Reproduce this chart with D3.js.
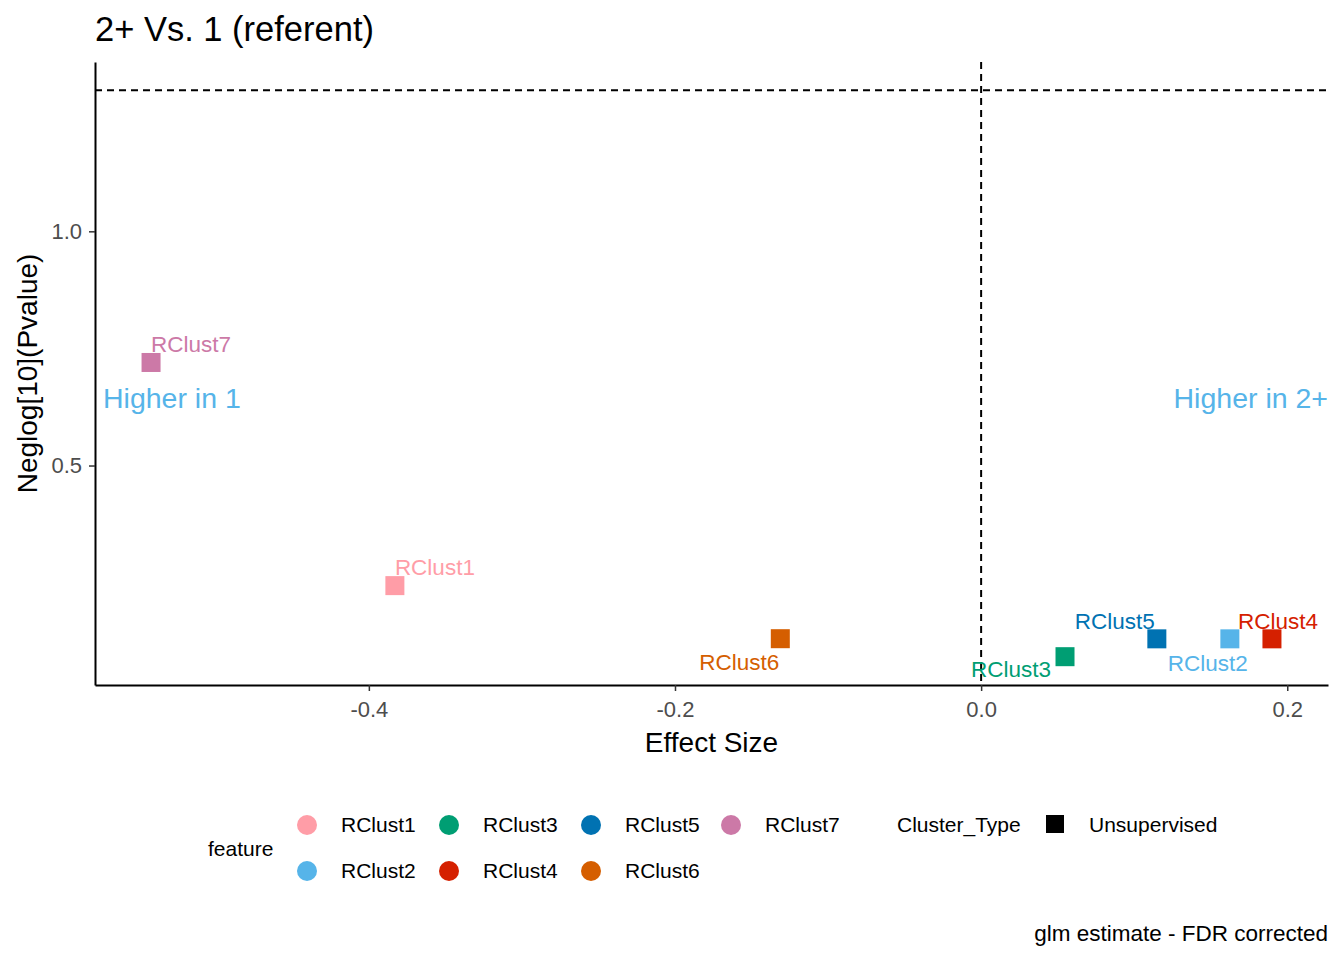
<!DOCTYPE html>
<head>
    <meta charset="utf-8"/>
    <script src="https://d3js.org/d3.v7.min.js"></script>
    <style>
        body {
            margin: 0;
            background: #fff;
        }
        text {
            font-family: Arial, "Liberation Sans", sans-serif;
        }
    </style>
</head>

<body>
<script>
    var width = 1344,
        height = 960;

    // data
    var features = ["RClust1", "RClust2", "RClust3", "RClust4", "RClust5", "RClust6", "RClust7"];
    var effectSize = [-0.383, 0.1625, 0.0548, 0.190, 0.1148, -0.1312, -0.5423];
    var neglogP = [0.2436, 0.130, 0.0919, 0.130, 0.130, 0.1303, 0.720];
    var featureColors = ["#FF9DA7", "#56B4E9", "#009E73", "#D52000", "#0072B2", "#D55E00", "#CC79A7"];
    var xTicks = [-0.4, -0.2, 0.0, 0.2];
    var yTicks = [0.5, 1.0];
    var pThreshold = -Math.log10(0.05);

    // where the repelled labels ended up, relative to the point (px)
    var labelNudge = {
        RClust1: [0, -18], RClust2: [-62, 24], RClust3: [-94, 12], RClust4: [-34, -18],
        RClust5: [-82, -18], RClust6: [-81, 23], RClust7: [0, -18]
    };

    var points = features.map(function (f, i) {
        return {feature: f, x: effectSize[i], y: neglogP[i], color: featureColors[i]};
    });

    var margin = {left: 95, right: 16, top: 62, bottom: 275};
    var pw = width - margin.left - margin.right,
        ph = height - margin.top - margin.bottom;

    var svg = d3.select("body").append("svg")
        .attr("width", width)
        .attr("height", height);

    // ggplot style 5% expansion
    var xr = d3.extent(effectSize), xp = (xr[1] - xr[0]) * 0.05;
    var yr = [d3.min(neglogP), pThreshold], yp = (yr[1] - yr[0]) * 0.05;

    var x = d3.scaleLinear().domain([xr[0] - xp, xr[1] + xp]).range([0, pw]);
    var y = d3.scaleLinear().domain([yr[0] - yp, yr[1] + yp]).range([ph, 0]);

    var g = svg.append("g").attr("transform", "translate(" + margin.left + "," + margin.top + ")");

    // title
    svg.append("text")
        .attr("x", margin.left).attr("y", 41)
        .style("font-size", "34.5px")
        .text("2+ Vs. 1 (referent)");

    // reference lines
    g.append("line")
        .attr("x1", 0).attr("x2", pw)
        .attr("y1", y(pThreshold)).attr("y2", y(pThreshold))
        .attr("stroke", "#000").attr("stroke-width", 2).attr("stroke-dasharray", "7,5");
    g.append("line")
        .attr("x1", x(0)).attr("x2", x(0))
        .attr("y1", 0).attr("y2", ph)
        .attr("stroke", "#000").attr("stroke-width", 2).attr("stroke-dasharray", "7,5");

    // axes
    var xAxis = g.append("g")
        .attr("transform", "translate(0," + ph + ")")
        .call(d3.axisBottom(x).tickValues(xTicks).tickFormat(d3.format(".1f")).tickSize(6).tickSizeOuter(0));
    var yAxis = g.append("g")
        .call(d3.axisLeft(y).tickValues(yTicks).tickFormat(d3.format(".1f")).tickSize(6).tickSizeOuter(0));

    [xAxis, yAxis].forEach(function (a) {
        a.select(".domain").attr("stroke", "#000").attr("stroke-width", 2);
        a.selectAll(".tick line").attr("stroke", "#333").attr("stroke-width", 1.5);
        a.selectAll(".tick text")
            .attr("fill", "#4D4D4D")
            .style("font-size", "22px")
            .style("font-family", "Arial, 'Liberation Sans', sans-serif");
    });
    xAxis.selectAll(".tick text").attr("dy", "1.03em");
    yAxis.selectAll(".tick text").attr("x", -13);
    xAxis.selectAll(".tick text").text(function (d) { return d3.format(".1f")(d).replace("−", "-"); });

    // axis titles
    svg.append("text")
        .attr("x", margin.left + pw / 2).attr("y", 752)
        .attr("text-anchor", "middle")
        .style("font-size", "28px")
        .text("Effect Size");
    svg.append("text")
        .attr("transform", "translate(37," + (margin.top + ph / 2) + ") rotate(-90)")
        .attr("text-anchor", "middle")
        .style("font-size", "28px")
        .text("Neglog[10](Pvalue)");

    // direction annotations
    g.append("text")
        .attr("x", 8).attr("y", 408 - margin.top)
        .attr("fill", "#56B4E9")
        .style("font-size", "28.5px")
        .text("Higher in 1");
    g.append("text")
        .attr("x", pw).attr("y", 408 - margin.top)
        .attr("text-anchor", "end")
        .attr("fill", "#56B4E9")
        .style("font-size", "28.5px")
        .text("Higher in 2+");

    // points
    var sq = 19;
    g.selectAll("rect.pt")
        .data(points)
        .join("rect")
        .attr("class", "pt")
        .attr("x", function (d) { return x(d.x) - sq / 2; })
        .attr("y", function (d) { return y(d.y) - sq / 2; })
        .attr("width", sq).attr("height", sq)
        .attr("fill", function (d) { return d.color; });

    g.selectAll("text.lab")
        .data(points)
        .join("text")
        .attr("class", "lab")
        .attr("x", function (d) { return x(d.x) + labelNudge[d.feature][0]; })
        .attr("y", function (d) { return y(d.y) + labelNudge[d.feature][1]; })
        .attr("dy", "0.35em")
        .attr("fill", function (d) { return d.color; })
        .style("font-size", "22.5px")
        .text(function (d) { return d.feature; });

    // legend: feature
    var leg = svg.append("g");
    leg.append("text")
        .attr("x", 208).attr("y", 849).attr("dy", "0.35em")
        .style("font-size", "21px")
        .text("feature");

    var colX = [307, 449, 591, 731], rowY = [825, 871];
    var legItems = leg.selectAll("g.item")
        .data(points)
        .join("g")
        .attr("class", "item")
        .attr("transform", function (d, i) {
            return "translate(" + colX[Math.floor(i / 2)] + "," + rowY[i % 2] + ")";
        });
    legItems.append("circle")
        .attr("r", 10)
        .attr("fill", function (d) { return d.color; });
    legItems.append("text")
        .attr("x", 34).attr("dy", "0.35em")
        .style("font-size", "21px")
        .text(function (d) { return d.feature; });

    // legend: Cluster_Type
    leg.append("text")
        .attr("x", 897).attr("y", 825).attr("dy", "0.35em")
        .style("font-size", "21px")
        .text("Cluster_Type");
    leg.append("rect")
        .attr("x", 1046).attr("y", 815)
        .attr("width", 18).attr("height", 18)
        .attr("fill", "#000");
    leg.append("text")
        .attr("x", 1089).attr("y", 825).attr("dy", "0.35em")
        .style("font-size", "21px")
        .text("Unsupervised");

    // caption
    svg.append("text")
        .attr("x", width - margin.right).attr("y", 941)
        .attr("text-anchor", "end")
        .style("font-size", "22.5px")
        .text("glm estimate - FDR corrected");
</script>
</body>
